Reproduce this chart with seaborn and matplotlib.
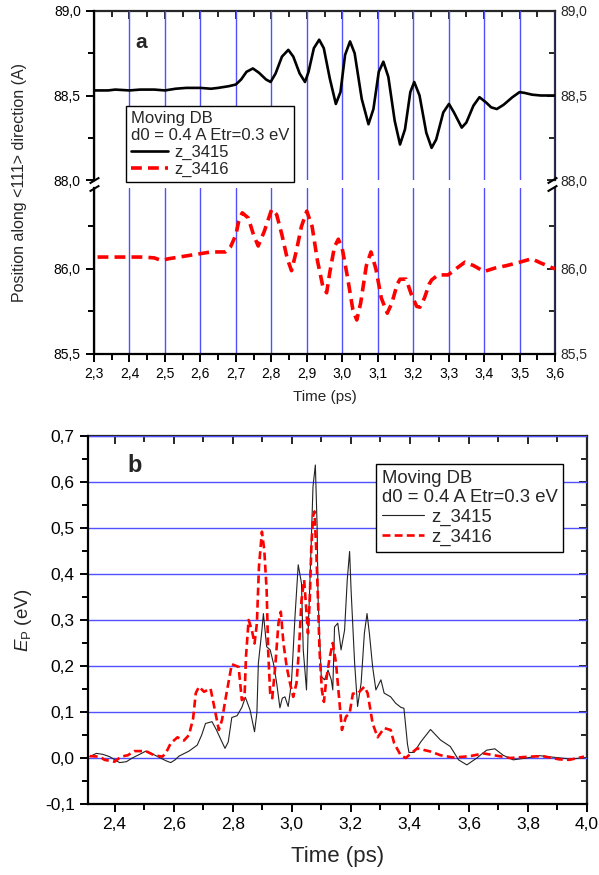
import seaborn as sns
import matplotlib.pyplot as plt
from matplotlib.ticker import MultipleLocator, FixedLocator, FuncFormatter

# panel a: position along <111> (A)
t_a_3415 = [2.300, 2.340, 2.360, 2.400, 2.430, 2.470, 2.500, 2.530, 2.560, 2.600, 2.630, 2.650,
            2.680, 2.700, 2.715, 2.730, 2.748, 2.765, 2.785, 2.798, 2.812, 2.830, 2.848, 2.862,
            2.880, 2.895, 2.905, 2.920, 2.935, 2.948, 2.965, 2.982, 2.995, 3.008, 3.022, 3.035,
            3.055, 3.074, 3.088, 3.103, 3.116, 3.130, 3.148, 3.163, 3.177, 3.192, 3.203, 3.218,
            3.237, 3.252, 3.265, 3.285, 3.301, 3.315, 3.337, 3.350, 3.370, 3.387, 3.405, 3.420,
            3.436, 3.455, 3.480, 3.500, 3.515, 3.535, 3.560, 3.580, 3.600]
pos_3415 = [88.530, 88.530, 88.535, 88.530, 88.535, 88.535, 88.530, 88.540, 88.545, 88.545,
            88.540, 88.545, 88.555, 88.565, 88.595, 88.640, 88.660, 88.635, 88.595, 88.580,
            88.630, 88.730, 88.770, 88.730, 88.630, 88.580, 88.640, 88.780, 88.830, 88.780,
            88.600, 88.450, 88.520, 88.740, 88.820, 88.750, 88.480, 88.330, 88.420, 88.640,
            88.700, 88.610, 88.350, 88.210, 88.300, 88.520, 88.580, 88.500, 88.280, 88.190,
            88.240, 88.400, 88.450, 88.400, 88.310, 88.340, 88.440, 88.490, 88.460, 88.430,
            88.420, 88.445, 88.490, 88.520, 88.515, 88.505, 88.500, 88.500, 88.500]

t_a_3416 = [2.310, 2.350, 2.400, 2.440, 2.470, 2.490, 2.510, 2.540, 2.570, 2.600, 2.630, 2.670,
            2.685, 2.700, 2.708, 2.718, 2.735, 2.750, 2.763, 2.780, 2.801, 2.815, 2.830, 2.845,
            2.857, 2.870, 2.885, 2.900, 2.915, 2.930, 2.945, 2.956, 2.965, 2.978, 2.989, 3.000,
            3.015, 3.030, 3.041, 3.052, 3.068, 3.081, 3.095, 3.110, 3.127, 3.140, 3.155, 3.163,
            3.180, 3.195, 3.210, 3.219, 3.232, 3.245, 3.252, 3.270, 3.299, 3.320, 3.346, 3.370,
            3.400, 3.430, 3.464, 3.501, 3.534, 3.560, 3.600]
pos_3416 = [86.070, 86.070, 86.070, 86.070, 86.065, 86.050, 86.060, 86.070, 86.080, 86.090,
            86.100, 86.100, 86.130, 86.200, 86.280, 86.330, 86.300, 86.200, 86.135, 86.220,
            86.350, 86.320, 86.200, 86.060, 85.990, 86.100, 86.250, 86.340, 86.250, 86.050,
            85.900, 85.860, 85.980, 86.130, 86.175, 86.120, 85.950, 85.760, 85.700, 85.800,
            86.020, 86.100, 86.000, 85.830, 85.740, 85.800, 85.910, 85.940, 85.940, 85.850,
            85.780, 85.775, 85.830, 85.910, 85.935, 85.965, 85.965, 86.000, 86.040, 86.020,
            85.985, 86.005, 86.020, 86.040, 86.060, 86.035, 86.000]

# panel b: potential energy E_P (eV)
t_b_3415 = [2.316, 2.338, 2.360, 2.383, 2.417, 2.440, 2.460, 2.485, 2.506, 2.525, 2.546, 2.574,
            2.590, 2.605, 2.618, 2.652, 2.680, 2.695, 2.708, 2.730, 2.745, 2.760, 2.774, 2.785,
            2.797, 2.815, 2.831, 2.843, 2.859, 2.874, 2.882, 2.887, 2.899, 2.904, 2.915, 2.927,
            2.938, 2.949, 2.960, 2.968, 2.977, 2.988, 2.999, 3.011, 3.022, 3.033, 3.039, 3.050,
            3.055, 3.061, 3.066, 3.072, 3.080, 3.086, 3.089, 3.100, 3.111, 3.123, 3.134, 3.139,
            3.145, 3.156, 3.167, 3.179, 3.188, 3.196, 3.201, 3.213, 3.223, 3.235, 3.246, 3.255,
            3.263, 3.274, 3.285, 3.302, 3.313, 3.335, 3.352, 3.370, 3.380, 3.392, 3.397, 3.414,
            3.437, 3.470, 3.504, 3.537, 3.565, 3.593, 3.627, 3.660, 3.688, 3.716, 3.750, 3.795,
            3.840, 3.896, 3.941, 3.990]
ep_3415 = [0.003, 0.010, 0.008, 0.003, -0.010, -0.008, 0.000, 0.008, 0.015, 0.010, 0.003, -0.006,
           -0.010, -0.004, 0.004, 0.015, 0.028, 0.050, 0.075, 0.079, 0.061, 0.040, 0.021, 0.035,
           0.088, 0.092, 0.110, 0.132, 0.104, 0.057, 0.098, 0.206, 0.278, 0.314, 0.242, 0.235,
           0.206, 0.163, 0.109, 0.130, 0.133, 0.112, 0.163, 0.307, 0.420, 0.380, 0.235, 0.148,
           0.264, 0.372, 0.467, 0.590, 0.637, 0.503, 0.350, 0.177, 0.170, 0.191, 0.170, 0.148,
           0.285, 0.293, 0.235, 0.278, 0.387, 0.449, 0.365, 0.206, 0.112, 0.163, 0.271, 0.314,
           0.271, 0.198, 0.148, 0.170, 0.141, 0.133, 0.119, 0.110, 0.108, 0.030, 0.012, 0.012,
           0.035, 0.062, 0.039, 0.025, -0.004, -0.015, 0.000, 0.017, 0.020, 0.006, -0.004, 0.000,
           0.005, 0.001, -0.002, 0.000]

t_b_3416 = [2.316, 2.350, 2.366, 2.400, 2.422, 2.445, 2.467, 2.506, 2.534, 2.562, 2.574, 2.590,
            2.613, 2.635, 2.652, 2.666, 2.675, 2.686, 2.703, 2.725, 2.742, 2.753, 2.764, 2.775,
            2.797, 2.820, 2.831, 2.840, 2.845, 2.854, 2.865, 2.874, 2.882, 2.889, 2.899, 2.907,
            2.915, 2.920, 2.927, 2.934, 2.944, 2.955, 2.963, 2.972, 2.983, 2.994, 3.005, 3.016,
            3.024, 3.033, 3.042, 3.047, 3.055, 3.061, 3.066, 3.072, 3.077, 3.083, 3.089, 3.094,
            3.102, 3.109, 3.117, 3.128, 3.139, 3.150, 3.162, 3.170, 3.184, 3.196, 3.207, 3.223,
            3.246, 3.257, 3.274, 3.291, 3.313, 3.335, 3.347, 3.369, 3.386, 3.397, 3.425, 3.470,
            3.504, 3.548, 3.604, 3.649, 3.694, 3.740, 3.807, 3.850, 3.906, 3.940, 3.990]
ep_3416 = [0.004, 0.003, -0.004, -0.008, 0.003, 0.006, 0.015, 0.015, 0.006, 0.003, 0.011, 0.032,
           0.045, 0.038, 0.050, 0.086, 0.141, 0.155, 0.144, 0.151, 0.097, 0.061, 0.083, 0.126,
           0.204, 0.198, 0.126, 0.130, 0.220, 0.300, 0.278, 0.249, 0.293, 0.416, 0.492, 0.452,
           0.365, 0.235, 0.141, 0.130, 0.198, 0.293, 0.318, 0.249, 0.198, 0.163, 0.133, 0.162,
           0.231, 0.343, 0.387, 0.343, 0.271, 0.343, 0.452, 0.525, 0.536, 0.452, 0.343, 0.235,
           0.148, 0.122, 0.170, 0.217, 0.250, 0.206, 0.119, 0.061, 0.090, 0.097, 0.140, 0.140,
           0.155, 0.141, 0.075, 0.045, 0.065, 0.061, 0.032, 0.006, 0.000, 0.006, 0.021, 0.014,
           0.006, 0.001, 0.004, 0.010, 0.005, 0.000, 0.003, 0.004, -0.003, -0.004, 0.003]

series_labels = ["z_3415", "z_3416"]
legend_title = "Moving DB\nd0 = 0.4 A Etr=0.3 eV"

# tick positions (only those inside each axis range)
up_major, up_minor = [88.0, 88.5, 89.0], [88.25, 88.75]
lo_major, lo_minor = [85.5, 86.0], [85.75, 86.25]
b_major = [-0.1, 0.0, 0.1, 0.2, 0.3, 0.4, 0.5, 0.6, 0.7]
b_minor = [-0.05, 0.05, 0.15, 0.25, 0.35, 0.45, 0.55, 0.65]

sns.set_style("white")
plt.rcParams["font.family"] = ["Liberation Sans", "DejaVu Sans"]
plt.rcParams["mathtext.fontset"] = "custom"
plt.rcParams["mathtext.rm"] = "Liberation Sans"
plt.rcParams["mathtext.it"] = "Liberation Sans:italic"

BLUE = "#5050ff"
W, H = 599, 875
comma = FuncFormatter(lambda v, pos: f"{round(v, 2) + 0.0:.1f}".replace(".", ","))


def box(x0, y0, x1, y1):
    # pixel box (top-left origin) -> figure fraction rect
    return [x0 / W, 1 - y1 / H, (x1 - x0) / W, (y1 - y0) / H]


def add_ticks(ax, xmaj, xmin, ymaj, ymin, size, top=True, bottom=True, right_labels=False):
    for s in ax.spines.values():
        s.set_linewidth(1.6)
        s.set_color("black")
    ax.xaxis.set_major_locator(MultipleLocator(xmaj))
    ax.xaxis.set_minor_locator(MultipleLocator(xmin))
    ax.yaxis.set_major_locator(FixedLocator(ymaj))
    ax.yaxis.set_minor_locator(FixedLocator(ymin))
    ax.xaxis.set_major_formatter(comma)
    ax.yaxis.set_major_formatter(comma)
    ax.tick_params(which="both", direction="out", width=1.4, colors="black",
                   labelsize=size, left=True, bottom=bottom, labelbottom=bottom)
    ax.tick_params(which="major", length=6)
    ax.tick_params(which="minor", length=4)
    ax.spines["right"].set_visible(False)
    sy = ax.secondary_yaxis("right")
    sy.yaxis.set_major_locator(FixedLocator(ymaj))
    sy.yaxis.set_minor_locator(FixedLocator(ymin))
    sy.yaxis.set_major_formatter(comma)
    sy.tick_params(which="both", direction="in", width=1.4, labelsize=size,
                   labelright=right_labels, pad=4)
    sy.tick_params(which="major", length=6)
    sy.tick_params(which="minor", length=4)
    for s in sy.spines.values():
        s.set_linewidth(1.6)
    if top:
        ax.spines["top"].set_visible(False)
        sx = ax.secondary_xaxis("top")
        sx.xaxis.set_major_locator(MultipleLocator(xmaj))
        sx.xaxis.set_minor_locator(MultipleLocator(xmin))
        sx.tick_params(which="both", direction="in", width=1.4, labeltop=False)
        sx.tick_params(which="major", length=6)
        sx.tick_params(which="minor", length=4)
        for s in sx.spines.values():
            s.set_linewidth(1.6)


fig = plt.figure(figsize=(W / 100, H / 100), dpi=100)

# ---- panel a (broken y axis) ----
ax_up = fig.add_axes(box(94, 11, 555, 180))
ax_lo = fig.add_axes(box(94, 188, 555, 354))

sns.lineplot(x=t_a_3415, y=pos_3415, ax=ax_up, color="black", lw=1.9, legend=False)
h1 = ax_up.lines[-1]
sns.lineplot(x=t_a_3416, y=pos_3416, ax=ax_lo, color="red", lw=2.6,
             linestyle=(0, (3, 1.7)), legend=False)
h2 = ax_lo.lines[-1]

for ax in (ax_up, ax_lo):
    ax.set_xlim(2.3, 3.6)
    ax.grid(axis="x", which="major", color=BLUE, lw=1.0)
    ax.set_axisbelow(True)
    ax.set_xlabel("")
    ax.set_ylabel("")
ax_up.set_ylim(88.0, 89.0)
ax_lo.set_ylim(85.5, 86.476)

add_ticks(ax_up, 0.1, 0.05, up_major, up_minor, 10, top=True, bottom=False, right_labels=True)
ax_up.spines["bottom"].set_visible(False)
add_ticks(ax_lo, 0.1, 0.05, lo_major, lo_minor, 10, top=False, bottom=True, right_labels=True)
ax_lo.spines["top"].set_visible(False)
ax_lo.set_xlabel("Time (ps)", fontsize=11, labelpad=6)

# axis break marks, slightly left of each spine like the original
brk = dict(marker=[(-1, -0.6), (1, 0.6)], markersize=7, linestyle="none",
           color="black", mec="black", mew=1.5, clip_on=False)
ax_up.plot([0.0, 0.993], [0, 0], transform=ax_up.transAxes, **brk)
ax_lo.plot([0.0, 0.993], [1, 1], transform=ax_lo.transAxes, **brk)

fig.text(20 / W, 1 - 182 / H, "Position along <111> direction (A)", rotation=90,
         ha="center", va="center", fontsize=11.5)
fig.text(141 / W, 1 - 43 / H, "a", fontsize=15, fontweight="bold", ha="center", va="center")

fig.legend([h1, h2], series_labels, title=legend_title, alignment="left",
           loc="upper left", bbox_to_anchor=(126 / W, 1 - 106 / H), borderaxespad=0,
           fontsize=12, title_fontsize=12, frameon=True, fancybox=False,
           edgecolor="black", framealpha=1, handlelength=2.2, handletextpad=0.4,
           labelspacing=0.1, borderpad=0.3)

# ---- panel b ----
ax_b = fig.add_axes(box(88, 436, 587, 804))
sns.lineplot(x=t_b_3415, y=ep_3415, ax=ax_b, color="#222222", lw=0.8, legend=False)
g1 = ax_b.lines[-1]
sns.lineplot(x=t_b_3416, y=ep_3416, ax=ax_b, color="red", lw=1.9,
             linestyle=(0, (3, 1.6)), legend=False)
g2 = ax_b.lines[-1]
ax_b.set_xlim(2.31, 4.0)
ax_b.set_ylim(-0.1, 0.7)
ax_b.grid(axis="y", which="major", color=BLUE, lw=1.0)
ax_b.set_axisbelow(True)
add_ticks(ax_b, 0.2, 0.1, b_major, b_minor, 12.5, top=True, bottom=True, right_labels=False)
ax_b.set_xlabel("Time (ps)", fontsize=16, labelpad=10)
ax_b.set_ylabel(r"$E_{\mathrm{P}}$ (eV)", fontsize=13.5, labelpad=8)
ax_b.legend([g1, g2], series_labels, title=legend_title, alignment="left",
            loc="upper left", bbox_to_anchor=(376 / W, 1 - 464 / H),
            bbox_transform=fig.transFigure, borderaxespad=0,
            fontsize=13.3, title_fontsize=13.3, frameon=True, fancybox=False,
            edgecolor="black", framealpha=1, handlelength=2.3, handletextpad=0.4,
            labelspacing=0.15, borderpad=0.3)
fig.text(135 / W, 1 - 466 / H, "b", fontsize=17, fontweight="bold", ha="center", va="center")

fig.savefig("out.png", dpi=100)
